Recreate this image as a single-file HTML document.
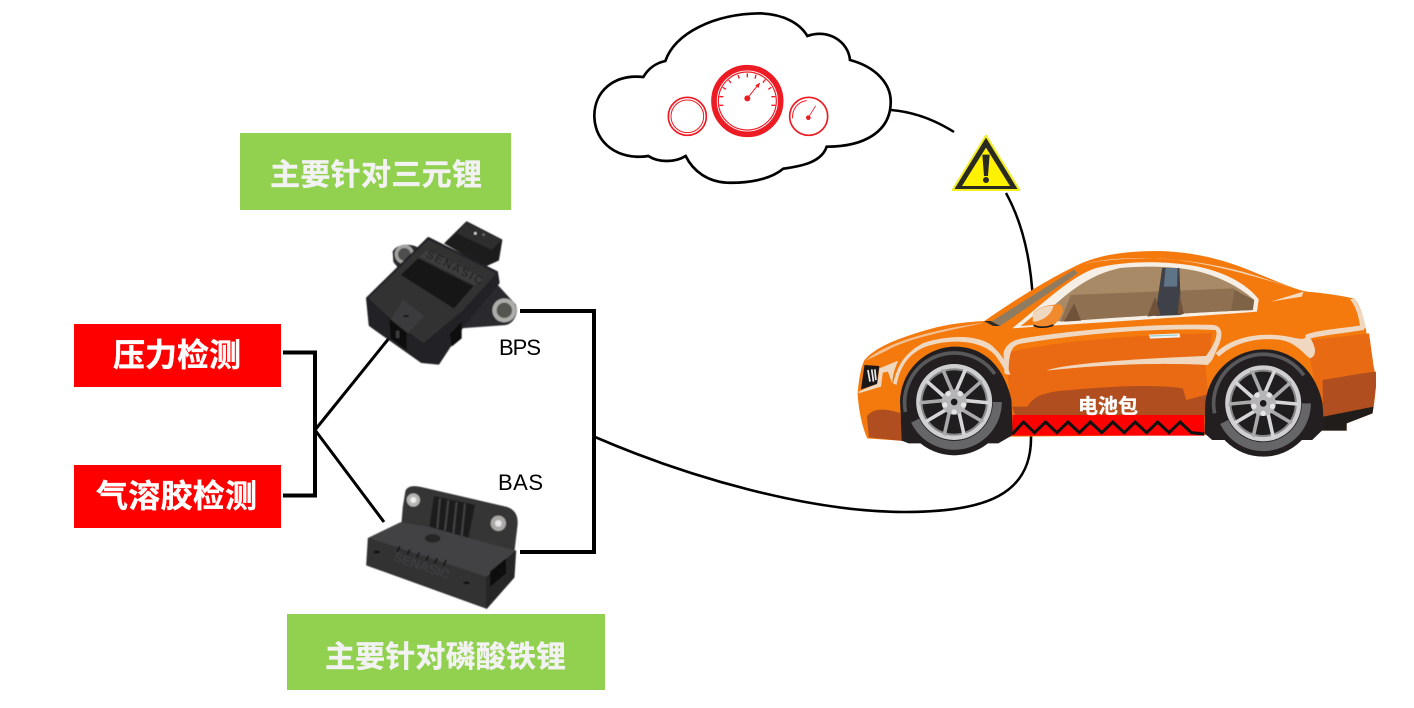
<!DOCTYPE html>
<html lang="zh">
<head>
<meta charset="utf-8">
<title>电池包热失控检测示意图</title>
<style>
html,body{margin:0;padding:0;background:#fff;}
svg{display:block;}
.cn{font-family:"Liberation Sans","Noto Sans CJK SC",sans-serif;font-weight:700;fill:#fff;stroke:#fff;stroke-width:.35px;}
.gr{fill:#f2f2f2;stroke:#f2f2f2;}
.la{font-family:"Liberation Sans",sans-serif;fill:#000;font-size:22px;}
</style>
</head>
<body>
<svg width="1414" height="708" viewBox="0 0 1414 708" xmlns="http://www.w3.org/2000/svg">
<defs>
<filter id="soft" x="-5%" y="-5%" width="110%" height="110%"><feGaussianBlur stdDeviation="1.300"/></filter>
<g id="spk">
  <path d="M-10,-28 L-40,-98 L-29,-99 L2,-28 Z" fill="#a9a9ab"/>
  <path d="M10,-28 L40,-98 L29,-99 L-2,-28 Z" fill="#d6d6d8"/>
</g>
<g id="wheel">
  <circle r="160" fill="#231f20"/>
  <path d="M-129,62 A143,143 0 0 0 143,0 L116,0 A116,116 0 0 1 -105,50 Z" fill="#666668"/>
  <path d="M-146,30 A149,149 0 0 1 122,-84" fill="none" stroke="#58585a" stroke-width="11"/>
  <circle r="114" fill="#cfcfd1"/>
  <circle r="101" fill="#88888a"/>
  <circle r="95" fill="#1f1d1e"/>
  <use href="#spk"/>
  <use href="#spk" transform="rotate(72)"/>
  <use href="#spk" transform="rotate(144)"/>
  <use href="#spk" transform="rotate(216)"/>
  <use href="#spk" transform="rotate(288)"/>
  <circle r="38" fill="#b5b5b7"/>
  <circle cx="0" cy="30" r="8" fill="#e4e4e4"/>
  <circle cx="28" cy="9" r="8" fill="#e4e4e4"/>
  <circle cx="18" cy="-25" r="8" fill="#e4e4e4"/>
  <circle cx="-18" cy="-25" r="8" fill="#e4e4e4"/>
  <circle cx="-28" cy="9" r="8" fill="#e4e4e4"/>
  <circle r="10" fill="#1c1a1b"/>
</g>
</defs>

<rect width="1414" height="708" fill="#fff"/>

<!-- Cloud -->
<g transform="translate(580,0) scale(.33333)" fill="#fff" stroke="#000" stroke-width="8" stroke-linejoin="miter">
  <path d="M190,231 C205,205 225,190 256,183 C285,100 400,42 540,40 C610,42 660,70 682,108 C745,85 805,125 810,180 C885,200 935,250 932,310 C930,390 860,440 740,440 C725,485 670,498 610,506 C570,540 500,550 440,548 C385,545 340,515 317,468 C285,488 235,488 205,468 C115,482 45,430 43,350 C42,275 100,222 190,231 Z"/>
</g>
<path d="M891,110 C915,112 935,120 954,132" fill="none" stroke="#000" stroke-width="2.500"/>

<!-- Gauges -->
<g transform="translate(580,0) scale(.33333)" fill="none" stroke="#ed1c24">
  <circle cx="322" cy="349" r="57" stroke-width="5"/>
  <circle cx="322" cy="349" r="49" stroke-width="3"/>
  <circle cx="502" cy="303" r="100" stroke-width="17"/>
  <circle cx="502" cy="303" r="87" stroke-width="3.500"/>
  <g stroke-width="4">
    <path d="M418,316H430M418,290H430M428,262L438,268M446,240L453,249M474,225L478,236M502,220V232M528,224L525,236M556,238L549,248M574,262L565,268M586,290H574M586,316H574"/>
  </g>
  <path d="M502,295L538,250" stroke-width="3"/>
  <circle cx="502" cy="295" r="9" fill="#ed1c24" stroke="none"/>
  <path d="M526,256L540,248L536,264Z" fill="#ed1c24" stroke="none"/>
  <circle cx="686" cy="349" r="57" stroke-width="5"/>
  <path d="M638,355 A48,48 0 0 1 680,302" stroke-width="3"/>
  <path d="M685,353L707,317" stroke-width="2.500"/>
  <circle cx="685" cy="353" r="7" fill="#ed1c24" stroke="none"/>
</g>

<!-- Warning sign -->
<g transform="translate(580,0) scale(.33333)">
  <path d="M1218,407 L1318,570 L1118,570 Z" fill="#2b2a20" stroke="#f2ee20" stroke-width="6" stroke-linejoin="round"/>
  <path d="M1218,443 L1290,558 L1146,558 Z" fill="#fff200"/>
  <path d="M1207,464 H1229 L1224,528 H1212 Z" fill="#2b2a20"/>
  <circle cx="1218" cy="540" r="9" fill="#2b2a20"/>
</g>
<path d="M1006,193 C1022,222 1031,260 1033,302" fill="none" stroke="#000" stroke-width="2.500"/>

<!-- Green labels -->
<rect x="240" y="133" width="271" height="77" fill="#92d050"/>
<text class="cn gr" x="270" y="185" font-size="30" textLength="212">主要针对三元锂</text>
<rect x="287" y="614" width="318" height="76" fill="#92d050"/>
<text class="cn gr" x="325" y="667" font-size="30" textLength="241">主要针对磷酸铁锂</text>

<!-- Red labels -->
<rect x="74" y="324" width="207" height="63" fill="#ff0000"/>
<text class="cn" x="113" y="366" font-size="32" textLength="128">压力检测</text>
<rect x="74" y="465" width="207" height="63" fill="#ff0000"/>
<text class="cn" x="96" y="507" font-size="32" textLength="161">气溶胶检测</text>

<!-- Left connectors -->
<path d="M283,352.500 H315 V495.500 H283" fill="none" stroke="#000" stroke-width="4"/>
<path d="M315,430 L390,337 M315,430 L384,522" fill="none" stroke="#000" stroke-width="3"/>

<!-- Right connectors -->
<path d="M520,311 H594 V552 H520" fill="none" stroke="#000" stroke-width="4"/>
<path d="M595,437 C690,478 810,512 905,512 C985,512 1032,495 1031,436" fill="none" stroke="#000" stroke-width="2.600"/>

<!-- BPS sensor -->
<g transform="translate(350,210) scale(.33333)" filter="url(#soft)">
  <path d="M285,100 L350,36 L455,90 L445,150 L405,168 Z" fill="#1d1d1e" stroke="#1d1d1e" stroke-width="4" stroke-linejoin="round"/>
  <path d="M350,36 L455,90 L425,120 L320,70 Z" fill="#2d2d2f"/>
  <circle cx="376" cy="70" r="4" fill="#ddd"/><circle cx="401" cy="74" r="3.500" fill="#777"/>
  <path d="M130,125 C140,105 180,100 205,115 L240,90 L160,190 L132,155 Z" fill="#2b2b2d" stroke="#2b2b2d" stroke-width="4" stroke-linejoin="round"/>
  <circle cx="163" cy="133" r="29" fill="#a2a2a0"/><circle cx="163" cy="133" r="19" fill="#4e4e4e"/>
  <path d="M440,225 L495,285 C505,315 485,340 465,343 L340,352 Z" fill="#2c2c2e" stroke="#2c2c2e" stroke-width="5" stroke-linejoin="round"/>
  <circle cx="463" cy="301" r="36" fill="#adadab"/><circle cx="463" cy="301" r="23" fill="#55544f"/>
  <path d="M52,265 L235,85 L440,187 L445,218 L340,345 L265,460 L215,455 L120,388 L60,345 Z" fill="#232325" stroke="#232325" stroke-width="8" stroke-linejoin="round"/>
  <path d="M55,265 L235,88 L440,190 L335,305 L220,400 L120,325 Z" fill="#303032"/>
  <path d="M232,118 L402,205 L378,227 L208,140 Z" fill="#3c3c3e"/>
  <text x="0" y="0" transform="translate(226,140) rotate(27)" font-family="Liberation Sans,sans-serif" font-size="34" fill="#1b1b1c" textLength="185">SENASIC</text>
  <path d="M205,145 L370,228 L312,295 L153,195 Z" fill="#131314"/>
  <path d="M120,330 L160,268 L222,318 L175,370 Z" fill="#3a3a3c"/>
  <rect x="160" y="316" width="16" height="5" fill="#111"/>
  <path d="M118,325 L170,368 L170,420 L122,385 Z" fill="#111"/>
  <rect x="138" y="362" width="10" height="22" fill="#3d3d3f"/>
  <path d="M300,372 L335,335 L335,385 L305,410 Z" fill="#111"/>
</g>
<text class="la" x="499" y="355" textLength="42">BPS</text>

<!-- BAS sensor -->
<g transform="translate(350,470) scale(.33333)" filter="url(#soft)">
  <path d="M160,110 L168,62 C175,48 195,48 215,53 L470,112 C495,120 506,140 500,175 L490,260 L300,260 L155,170 Z" fill="#343436" stroke="#343436" stroke-width="3"/>
  <path d="M252,78 L375,105 L355,205 L238,170 Z" fill="#1b1b1c"/>
  <path d="M270,85L262,175M295,90L285,182M320,96L310,190M345,100L335,198" stroke="#424244" stroke-width="6" fill="none"/>
  <circle cx="190" cy="90" r="20" fill="#b5b5b3"/><circle cx="190" cy="90" r="9" fill="#eee"/>
  <circle cx="445" cy="160" r="23" fill="#aaa9a6"/><circle cx="445" cy="160" r="10" fill="#e6e6e6"/>
  <path d="M55,205 L152,158 L238,172 L355,205 L497,243 L410,322 Z" fill="#424244" stroke="#424244" stroke-width="3" stroke-linejoin="round"/>
  <ellipse cx="248" cy="205" rx="23" ry="13" fill="#262627"/>
  <path d="M55,205 L410,322 L410,415 L50,285 Z" fill="#303032" stroke="#303032" stroke-width="3" stroke-linejoin="round"/>
  <path d="M410,322 L497,243 L492,322 L410,415 Z" fill="#252527" stroke="#252527" stroke-width="3" stroke-linejoin="round"/>
  <path d="M150,228L142,245M180,238L172,254M208,247L200,263M236,256L228,272M262,264L254,280M288,270L280,288" stroke="#18181a" stroke-width="5" fill="none"/>
  <path d="M420,305 L468,265 L468,310 L420,350 Z" fill="#0c0c0d"/>
  <rect x="72" y="242" width="16" height="8" fill="#111"/>
  <rect x="342" y="335" width="16" height="7" fill="#111"/>
  <text transform="translate(128,272) rotate(19)" font-family="Liberation Sans,sans-serif" font-size="40" font-weight="700" fill="#3e3e40" textLength="175">SENASIC</text>
</g>
<text class="la" x="498" y="490" textLength="45">BAS</text>

<!-- Car -->
<g transform="translate(850,240) scale(.3449,.33333)">
  <path d="M22,462 C25,420 32,380 42,360 C70,325 130,295 250,262 C300,250 350,245 390,243 C450,200 550,130 660,75 C720,45 800,33 890,33 C1000,35 1090,60 1180,100 C1240,125 1290,148 1325,155 C1380,160 1430,168 1462,176 C1485,205 1495,250 1505,330 C1515,370 1525,395 1525,430 C1524,460 1520,490 1515,520 L1440,550 L1440,572 L1360,572 L1025,585 L470,590 L155,603 L50,595 C35,560 25,510 22,462 Z" fill="#f47a0e"/>
  <path d="M450,340 C600,300 850,285 1050,280 C1040,320 1060,350 1030,370 L1040,480 L470,530 Z" fill="#e96a12"/>
  <path d="M1340,300 L1505,280 L1525,430 L1500,510 L1370,540 L1330,340 Z" fill="#e86a12"/>
  <path d="M515,500 C530,470 560,455 640,450 C800,435 900,435 965,445 L975,480 L1040,462 L1030,530 L480,530 L470,500 Z" fill="#b04e1f"/>
  <path d="M1370,420 C1420,412 1480,400 1525,395 L1525,440 L1518,500 L1372,530 Z" fill="#b04e1f"/>
  <path d="M49,530 C60,510 90,500 145,519 L155,603 L55,592 Z" fill="#b04e1f"/>
  <path d="M1372,530 L1518,500 L1515,520 L1440,550 L1440,572 L1360,572 Z" fill="#211d1b"/>
  <!-- window frame + glass -->
  <path d="M470,265 C560,190 640,110 710,85 C800,62 910,62 1000,78 C1080,93 1150,130 1185,178 L1180,215 C1000,230 750,245 470,265 Z" fill="#f6efe6"/>
  <path d="M590,245 L575,212 C630,160 690,105 783,84 C850,78 920,78 990,90 C1060,103 1130,140 1172,180 L1168,210 C980,218 780,232 590,245 Z" fill="#a98a66"/>
  <path d="M610,245 L640,165 L1110,145 L1168,180 L1168,210 C980,218 780,232 610,245 Z" fill="#8f7152"/>
  <path d="M1115,150 L1172,180 L1168,210 L1105,212 Z" fill="#7f6346"/>
  <path d="M905,84 L955,84 L960,225 L885,228 Z" fill="#3e4147"/>
  <path d="M915,84 L950,84 L948,140 L910,140 Z" fill="#5f7487"/>
  <path d="M862,230 L885,170 L900,225 Z M955,160 L968,222 L950,225 Z" fill="#6f5239"/>
  <path d="M620,245 L650,190 L670,242 Z" fill="#6f5239"/>
  <path d="M495,258 L535,255 L535,225 Z" fill="#f47a0e"/>
  <!-- windshield -->
  <path d="M408,246 L650,88 L660,100 L435,258 Z" fill="#8f7c60"/>
  <path d="M388,243 L408,243 L435,258 L415,258 Z" fill="#302a25"/>
  <!-- highlights -->
  <path d="M680,72 C780,42 1000,48 1180,108 L1310,153 C1200,115 1000,55 880,55 C800,55 730,60 680,72 Z" fill="#f0d4b4"/>
  <path d="M1220,185 L1315,155 L1310,170 Z" fill="#f6dcc2"/>
  <path d="M45,362 C100,310 230,270 390,248 C300,270 180,290 110,330 C80,345 60,355 45,362 Z" fill="#f2c093"/>
  <path d="M125,430 C140,370 160,340 210,310 C280,285 380,280 420,325 C440,345 455,370 465,405 C450,400 440,370 420,345 C380,300 290,295 220,320 C170,340 145,380 135,435 Z" fill="#f0d8c0"/>
  <path d="M445,340 C450,315 470,300 500,295 C680,265 900,250 1055,255 C1085,260 1080,295 1065,325 C1052,355 1050,370 1030,375 L1030,350 C1050,325 1070,285 1060,270 C900,262 680,280 500,310 C470,315 460,330 460,405 L448,400 Z" fill="#f0d8c0"/>
  <path d="M570,392 C620,370 850,355 1030,348 L1040,375 C850,365 680,380 570,392 Z" fill="#f0d8c0"/>
  <path d="M1060,340 C1100,295 1180,275 1260,288 C1300,295 1325,305 1320,285 C1350,270 1430,265 1490,255 L1490,270 C1430,280 1375,285 1335,295 C1350,320 1355,345 1335,355 C1320,350 1300,310 1250,300 C1180,290 1110,310 1070,350 Z" fill="#f0d8c0"/>
  <path d="M1462,176 C1480,205 1492,235 1495,265 L1480,265 C1475,230 1468,200 1450,178 Z" fill="#f0d8c0"/>
  <path d="M25,455 L80,430 L85,385 L140,362 C130,385 125,400 122,430 L110,395 L95,398 L90,440 L25,460 Z" fill="#f0d8c0"/>
  <!-- headlight -->
  <path d="M42,375 L85,378 L78,432 L32,448 Z" fill="#1b1718"/>
  <path d="M52,390L58,425M63,388L68,425M72,388L75,420" stroke="#e8e8e8" stroke-width="5" fill="none"/>
  <!-- mirror -->
  <path d="M530,225 C535,205 570,193 610,193 C625,205 615,235 590,255 C570,262 545,262 532,258 Z" fill="#f08a2c"/>
  <path d="M530,225 C540,205 565,198 590,197 C585,225 555,245 530,245 Z" fill="#f0d8c0"/>
  <path d="M532,256 C550,264 570,263 590,255" stroke="#1d1a18" stroke-width="5" fill="none"/>
  <!-- handle -->
  <path d="M866,284 L955,280 L958,292 L870,296 Z" fill="#f2f2f2"/>
  <path d="M868,288 L950,285" stroke="#9cd0d0" stroke-width="4"/>
  <!-- wheel arches -->
  <path d="M150,602 L145,480 C150,385 225,320 305,320 C385,320 445,375 468,480 L472,585 L430,610 L170,610 Z" fill="#231f20"/>
  <path d="M1028,580 L1030,490 C1040,390 1120,328 1200,328 C1280,328 1350,390 1370,490 L1375,565 L1340,600 L1050,600 Z" fill="#231f20"/>
  <use href="#wheel" transform="translate(302,486) scale(.9664,1)"/>
  <use href="#wheel" transform="translate(1198,490) scale(.9664,1)"/>
  <!-- battery -->
  <rect x="471" y="525" width="556" height="62" fill="#ff0000"/>
  <path d="M471,582 L503,546 L535,578 L567,546 L600,578 L632,546 L665,578 L697,546 L730,578 L762,546 L795,578 L827,546 L860,578 L892,546 L925,578 L957,546 L990,578 L1027,582" fill="none" stroke="#111" stroke-width="9"/>
</g>
<text class="cn" x="1078" y="413" font-size="20" textLength="60">电池包</text>
</svg>
</body>
</html>
